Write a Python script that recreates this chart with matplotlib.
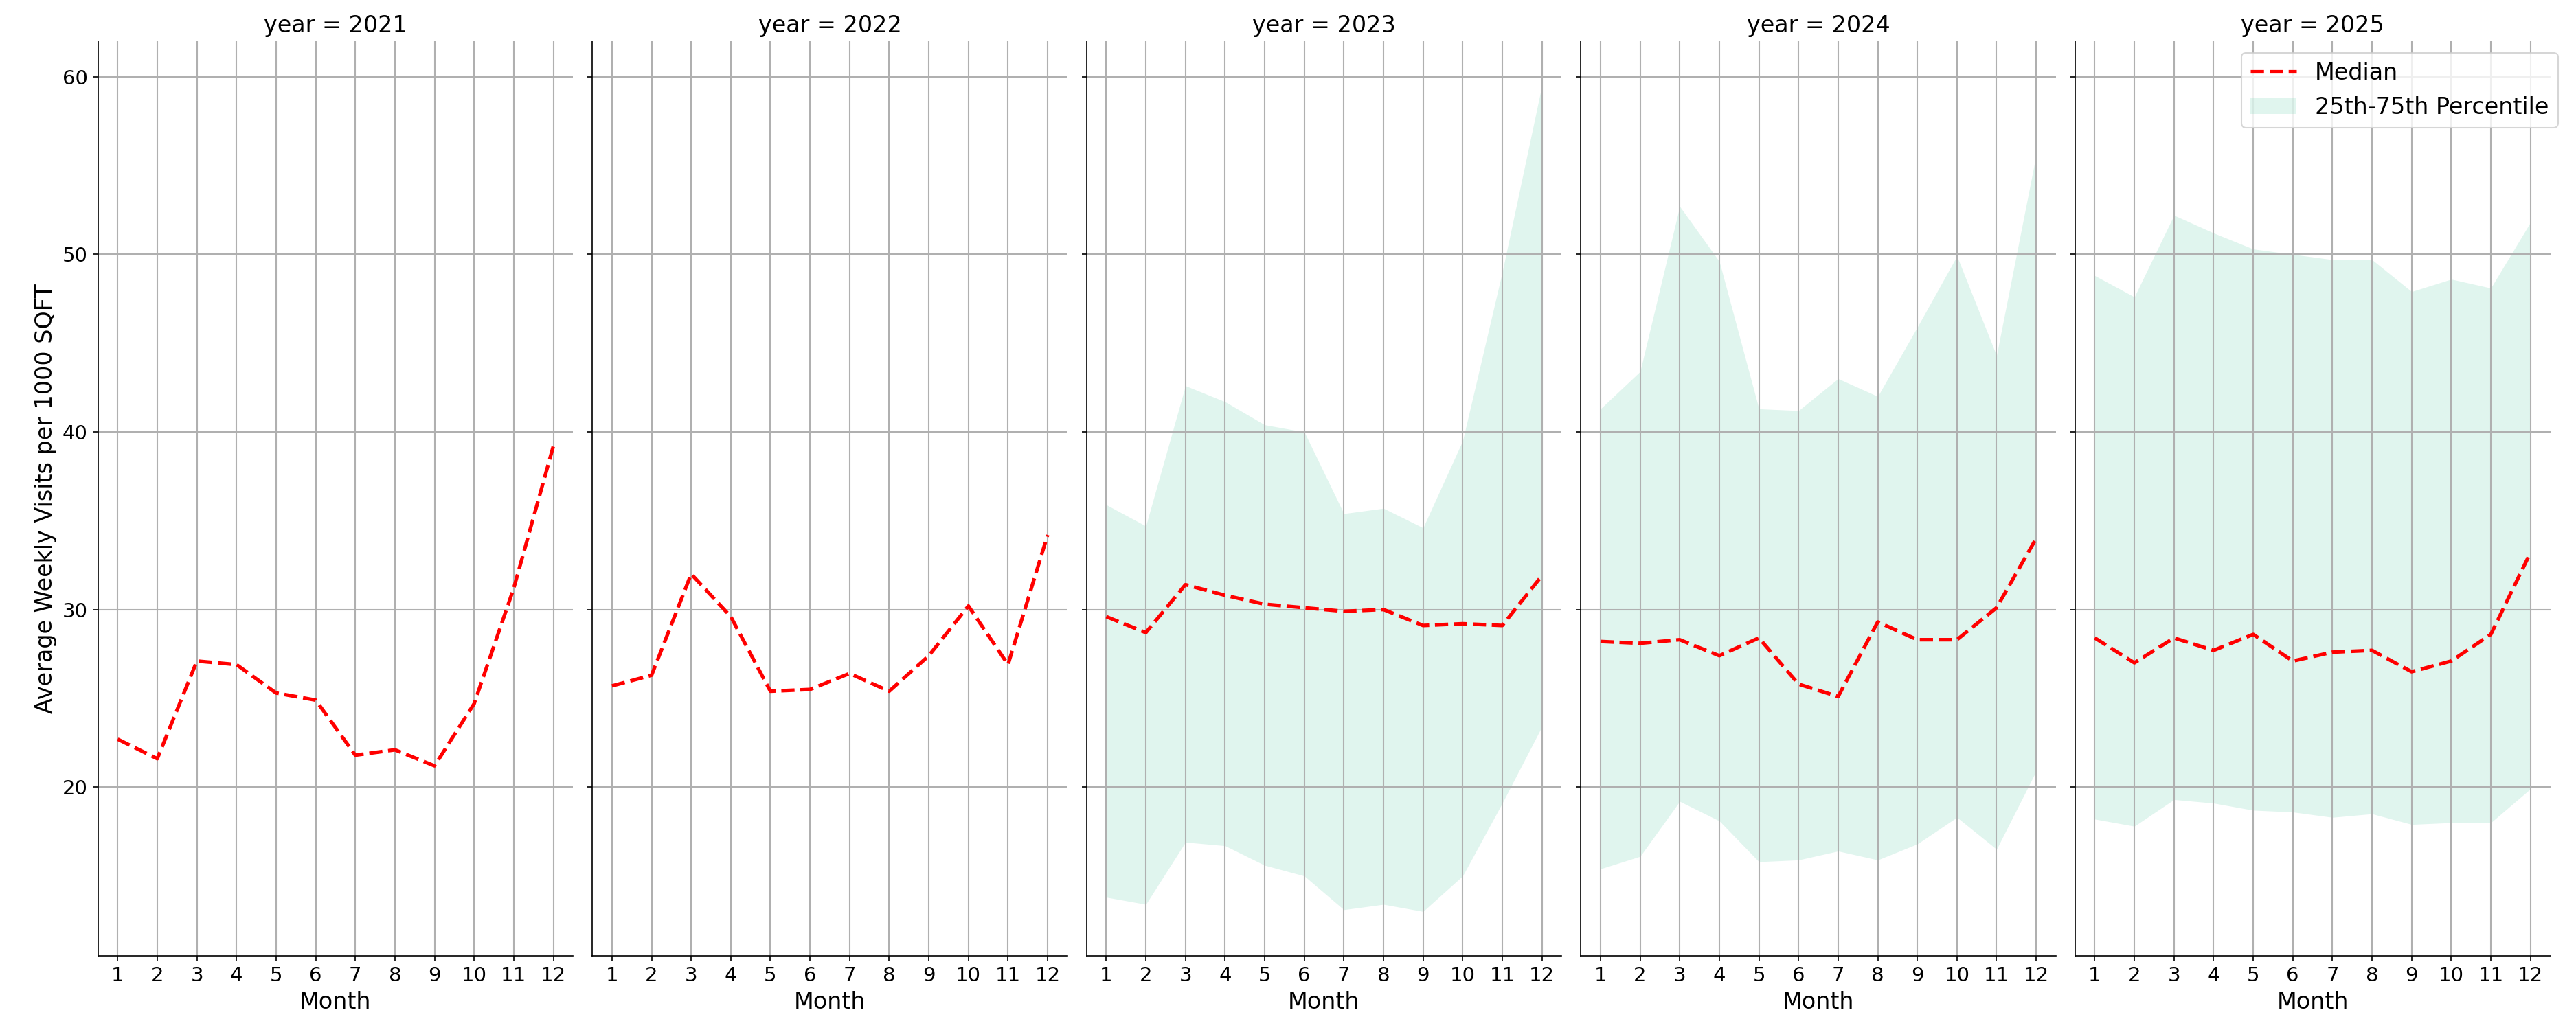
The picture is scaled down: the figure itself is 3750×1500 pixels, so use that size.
import numpy as np
import matplotlib.pyplot as plt

months = list(range(1, 13))
years = [2021, 2022, 2023, 2024, 2025]

median = {
    2021: [22.7, 21.6, 27.1, 26.9, 25.3, 24.9, 21.8, 22.1, 21.2, 24.7, 31.2, 39.2],
    2022: [25.7, 26.3, 32.0, 29.6, 25.4, 25.5, 26.4, 25.4, 27.4, 30.2, 26.9, 34.2],
    2023: [29.6, 28.7, 31.4, 30.8, 30.3, 30.1, 29.9, 30.0, 29.1, 29.2, 29.1, 31.9],
    2024: [28.2, 28.1, 28.3, 27.4, 28.4, 25.8, 25.1, 29.3, 28.3, 28.3, 30.1, 34.0],
    2025: [28.4, 27.0, 28.4, 27.7, 28.6, 27.1, 27.6, 27.7, 26.5, 27.1, 28.6, 33.2],
}
upper = {
    2023: [35.9, 34.7, 42.6, 41.7, 40.4, 40.0, 35.4, 35.7, 34.6, 39.5, 49.0, 59.5],
    2024: [41.3, 43.4, 52.7, 49.6, 41.3, 41.2, 43.0, 42.0, 45.9, 49.9, 44.3, 55.6],
    2025: [48.8, 47.6, 52.2, 51.2, 50.3, 50.0, 49.7, 49.7, 47.9, 48.6, 48.1, 51.8],
}
lower = {
    2023: [13.8, 13.4, 16.9, 16.7, 15.6, 15.0, 13.1, 13.4, 13.0, 15.0, 19.1, 23.4],
    2024: [15.4, 16.1, 19.2, 18.1, 15.8, 15.9, 16.4, 15.9, 16.8, 18.3, 16.5, 20.9],
    2025: [18.2, 17.8, 19.3, 19.1, 18.7, 18.6, 18.3, 18.5, 17.9, 18.0, 18.0, 19.9],
}

plt.rcParams['font.size'] = 14
fig, axes = plt.subplots(1, 5, figsize=(25, 10), dpi=150, sharey=True)
fig.subplots_adjust(left=0.038, right=0.99, top=0.96, bottom=0.072, wspace=0.04)

for ax, yr in zip(axes, years):
    ax.plot(months, median[yr], color='red', linestyle='--', linewidth=2.5, label='Median')
    if yr in upper:
        ax.fill_between(months, lower[yr], upper[yr], color='mediumaquamarine', alpha=0.2,
                        linewidth=0, label='25th-75th Percentile')
    ax.set_title(f'year = {yr}', fontsize=16)
    ax.set_xticks(months)
    ax.set_xlabel('Month', fontsize=16)
    ax.grid(True, color='#b0b0b0', linewidth=1)
    ax.spines['top'].set_visible(False)
    ax.spines['right'].set_visible(False)
    ax.set_xlim(0.5, 12.5)

axes[0].set_ylim(10.5, 62)
axes[0].set_yticks([20, 30, 40, 50, 60])
axes[0].set_ylabel('Average Weekly Visits per 1000 SQFT', fontsize=16)
axes[-1].legend(loc='upper right', fontsize=16, bbox_to_anchor=(1.04, 1.0))

fig.savefig('out.png')
